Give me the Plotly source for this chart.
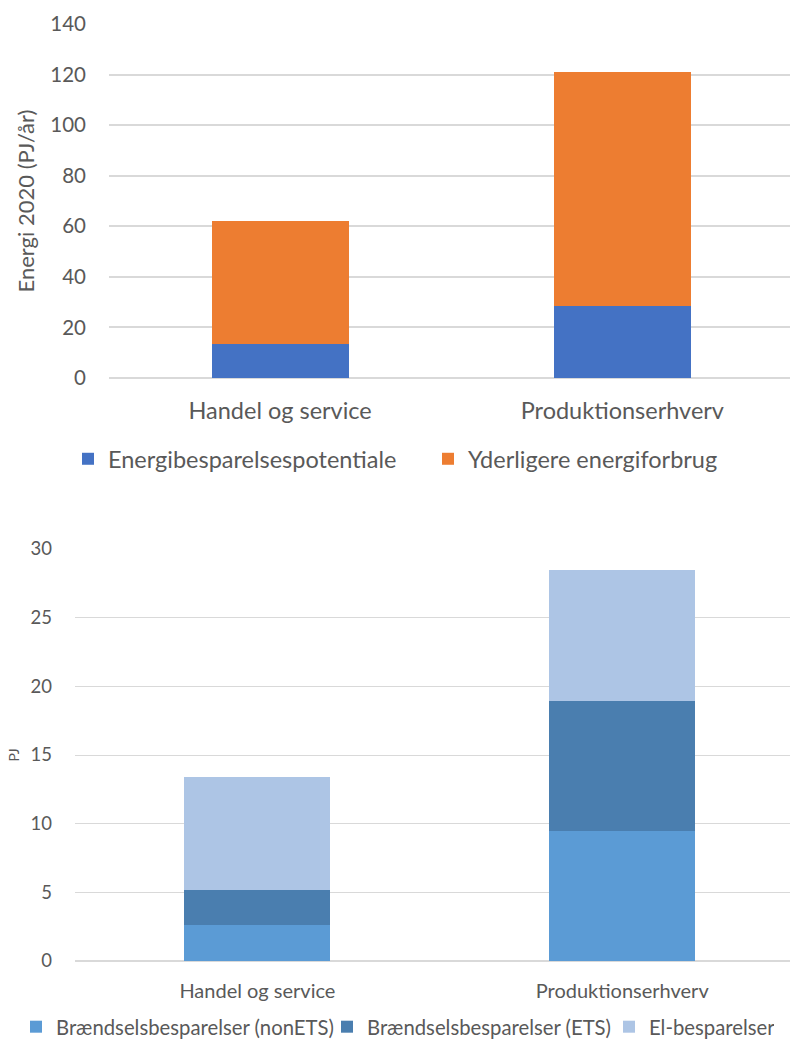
import plotly.graph_objects as go

# Sector categories shared by both panels
categories = ["Handel og service", "Produktionserhverv"]

# Upper panel: energy 2020 (PJ/år)
besparelsespotentiale = [13.5, 28.5]
yderligere_forbrug = [48.5, 92.5]

# Lower panel: savings breakdown (PJ)
braendsel_non_ets = [2.6, 9.5]
braendsel_ets = [2.6, 9.4]
el_besparelser = [8.2, 9.6]

top_ticks = [0, 20, 40, 60, 80, 100, 120, 140]
bottom_ticks = [0, 5, 10, 15, 20, 25, 30]

FONT = "Lato, Carlito, Calibri, sans-serif"
TXT = "#595959"
GRID = "#D9D9D9"
W, H = 790, 1039

fig = go.Figure()

fig.add_bar(x=categories, y=besparelsespotentiale, name="Energibesparelsespotentiale",
            marker=dict(color="#4472C4", line=dict(width=0)), width=0.4,
            xaxis="x", yaxis="y", legend="legend")
fig.add_bar(x=categories, y=yderligere_forbrug, name="Yderligere energiforbrug",
            marker=dict(color="#ED7D31", line=dict(width=0)), width=0.4,
            xaxis="x", yaxis="y", legend="legend")

fig.add_bar(x=categories, y=braendsel_non_ets, name="Brændselsbesparelser (nonETS)",
            marker=dict(color="#5B9BD5", line=dict(width=0)), width=0.4,
            xaxis="x2", yaxis="y2", legend="legend2", legendwidth=266)
fig.add_bar(x=categories, y=braendsel_ets, name="Brændselsbesparelser (ETS)",
            marker=dict(color="#4A7EAF", line=dict(width=0)), width=0.4,
            xaxis="x2", yaxis="y2", legend="legend2", legendwidth=237)
fig.add_bar(x=categories, y=el_besparelser, name="El-besparelser",
            marker=dict(color="#ADC5E5", line=dict(width=0)), width=0.4,
            xaxis="x2", yaxis="y2", legend="legend2", legendwidth=120)

fig.update_layout(
    width=W, height=H,
    margin=dict(l=0, r=0, t=0, b=0, autoexpand=False),
    barmode="stack",
    plot_bgcolor="white", paper_bgcolor="white",
    font=dict(family=FONT, color=TXT),
    xaxis=dict(domain=[109 / W, 1], anchor="y", type="category",
               range=[-0.5, 1.49], showgrid=False, zeroline=False,
               showline=False, ticks="", ticklabelstandoff=16,
               automargin=False, tickfont=dict(size=23.5, color=TXT)),
    yaxis=dict(domain=[1 - 378 / H, 1 - 24 / H], anchor="x",
               range=[0, 140], tickvals=top_ticks, showgrid=True,
               gridcolor=GRID, gridwidth=1.5, zeroline=True,
               zerolinecolor=GRID, zerolinewidth=1.5, ticks="",
               automargin=False,
               ticklabelstandoff=22, tickfont=dict(size=20.5, color=TXT),
               title=dict(text="Energi 2020 (PJ/år)", standoff=9,
                          font=dict(size=22, color=TXT))),
    xaxis2=dict(domain=[75 / W, 1], anchor="y2", type="category",
                range=[-0.5, 1.46], showgrid=False, zeroline=False,
                showline=False, ticks="", ticklabelstandoff=16,
                automargin=False, tickfont=dict(size=20, color=TXT)),
    yaxis2=dict(domain=[1 - 961 / H, 1 - 549 / H], anchor="x2",
                range=[0, 30], tickvals=bottom_ticks, showgrid=True,
                gridcolor=GRID, gridwidth=1, zeroline=True,
                zerolinecolor=GRID, zerolinewidth=1.5, ticks="",
                automargin=False,
                ticklabelstandoff=22, tickfont=dict(size=18.5, color=TXT),
                title=dict(text="PJ", standoff=7,
                           font=dict(size=14, color=TXT))),
    legend=dict(orientation="h", x=68 / W, y=1 - 459 / H, xanchor="left",
                yanchor="middle", font=dict(size=23.5, color=TXT),
                entrywidth=315, traceorder="normal",
                itemwidth=30, bgcolor="rgba(0,0,0,0)"),
    legend2=dict(orientation="h", x=16 / W, y=1 - 1027 / H, xanchor="left",
                 yanchor="middle", font=dict(size=20.3, color=TXT),
                 traceorder="normal", itemwidth=30,
                 bgcolor="rgba(0,0,0,0)"),
)

fig.write_html("out.html")
